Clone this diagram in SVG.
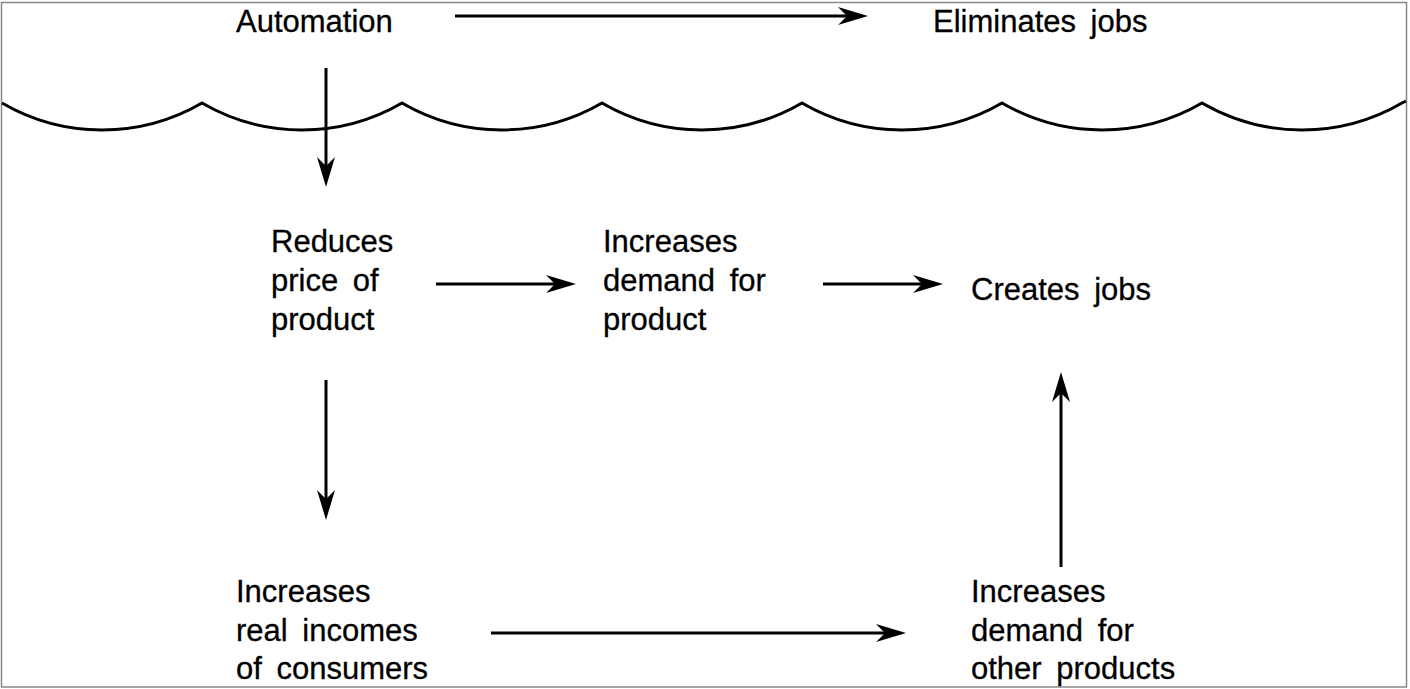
<svg xmlns="http://www.w3.org/2000/svg" width="1410" height="689" viewBox="0 0 1410 689">
<style>
.t{font-family:"Liberation Sans",Arial,sans-serif;font-size:31px;fill:#000;stroke:#000;stroke-width:0.3;word-spacing:6px}
.c{stroke:#000;stroke-width:3;fill:none}
</style>
<defs>
<marker id="ah" viewBox="0 0 30 18" refX="20" refY="9" markerWidth="30" markerHeight="18" markerUnits="userSpaceOnUse" orient="auto">
<path d="M0,0 L30,9 L0,18 L9,9 z" fill="#000"/>
</marker>
</defs>
<rect x="1.5" y="2.5" width="1405" height="684.5" fill="#fff" stroke="#888" stroke-width="1.5"/>
<path id="wave" class="c" d="M2,103 A199 199 0 0 0 202,103 A199 199 0 0 0 402,103 A199 199 0 0 0 602,103 A199 199 0 0 0 802,103 A199 199 0 0 0 1002,103 A199 199 0 0 0 1202,103 A199 199 0 0 0 1402,103 L1406,101"/>
<g id="connectors" class="c" marker-end="url(#ah)">
<line x1="455" y1="16" x2="858" y2="16"/>
<line x1="326" y1="68" x2="326" y2="177"/>
<line x1="436" y1="284" x2="566" y2="284"/>
<line x1="823" y1="284" x2="933" y2="284"/>
<line x1="326" y1="380" x2="326" y2="510"/>
<line x1="491" y1="633" x2="896" y2="633"/>
<line x1="1061" y1="567" x2="1061" y2="382"/>
</g>
<g id="automation"><text class="t" x="236" y="32">Automation</text></g>
<g id="eliminates"><text class="t" x="933" y="32">Eliminates jobs</text></g>
<g id="reduces"><text class="t"><tspan x="271" y="252">Reduces</tspan><tspan x="271" y="291">price of</tspan><tspan x="271" y="330">product</tspan></text></g>
<g id="demand"><text class="t"><tspan x="603" y="252">Increases</tspan><tspan x="603" y="291">demand for</tspan><tspan x="603" y="330">product</tspan></text></g>
<g id="creates"><text class="t" x="971" y="300">Creates jobs</text></g>
<g id="incomes"><text class="t"><tspan x="236" y="602">Increases</tspan><tspan x="236" y="641">real incomes</tspan><tspan x="236" y="679">of consumers</tspan></text></g>
<g id="other"><text class="t"><tspan x="971" y="602">Increases</tspan><tspan x="971" y="641">demand for</tspan><tspan x="971" y="679">other products</tspan></text></g>
</svg>
